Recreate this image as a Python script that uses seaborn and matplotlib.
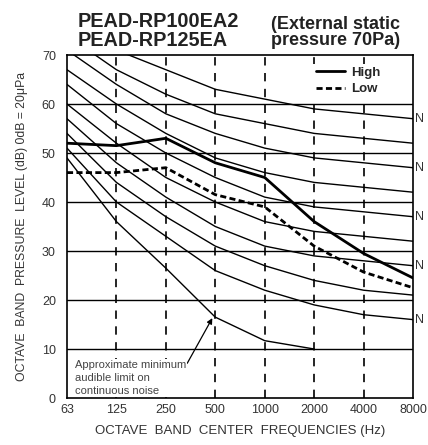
import pandas as pd
import matplotlib
matplotlib.use("Agg")
import matplotlib.pyplot as plt
import seaborn as sns

# octave band centres and NC curves
freqs = ["63", "125", "250", "500", "1000", "2000", "4000", "8000"]
nc_names = ["NC-20", "NC-25", "NC-30", "NC-35", "NC-40", "NC-45", "NC-50", "NC-55", "NC-60"]
nc20 = [51, 40, 33, 26, 22, 19, 17, 16]
nc25 = [54, 44, 37, 31, 27, 24, 22, 21]
nc30 = [57, 48, 41, 35, 31, 29, 28, 27]
nc35 = [60, 52, 45, 40, 36, 34, 33, 32]
nc40 = [64, 56, 50, 45, 41, 39, 38, 37]
nc45 = [67, 60, 54, 49, 46, 44, 43, 42]
nc50 = [71, 64, 58, 54, 51, 49, 48, 47]
nc55 = [74, 67, 62, 58, 56, 54, 53, 52]
nc60 = [77, 71, 67, 63, 61, 59, 58, 57]
threshold = [49, 36, 26.5, 16.5, 11.7, 10]

high = [52, 51.5, 53, 48, 45, 36, 29.5, 24.5]
low = [46, 46, 47, 41.5, 39, 31, 25.7, 22.5]

# only the "N" of the curve names survives at the right edge of the scan
labelled = ["NC-20", "NC-30", "NC-40", "NC-50", "NC-60"]

sns.set_style("white")
plt.rcParams['font.family'] = ['Liberation Sans', 'DejaVu Sans']

fig = plt.figure(figsize=(4.28, 4.45), dpi=100)
ax = fig.add_axes([0.1565, 0.1056, 0.8085, 0.7708])

x = list(range(len(freqs)))
nc_all = [nc20, nc25, nc30, nc35, nc40, nc45, nc50, nc55, nc60]
for name, vals in zip(nc_names, nc_all):
    sns.lineplot(x=x, y=vals, ax=ax, color="black", linewidth=1.0)
    if name in labelled:
        ax.text(7.05, vals[-1], name[0], fontsize=9, va="center", ha="left",
                color="#333333", clip_on=False)

sns.lineplot(x=x[:len(threshold)], y=threshold, ax=ax, color="black", linewidth=1.0)

df = pd.DataFrame({"x": x * 2, "level": high + low,
                   "mode": ["High"] * 8 + ["Low"] * 8})
sns.lineplot(data=df, x="x", y="level", style="mode", ax=ax, color="black",
             linewidth=2.0, dashes={"High": "", "Low": (2.2, 1.2)})

# grid
for yv in range(10, 70, 10):
    ax.axhline(yv, color="black", linewidth=1.0, zorder=0)
for xv in x[1:-1]:
    ax.axvline(xv, color="black", linewidth=1.2, linestyle=(0, (5, 4.5)), zorder=0)

ax.set_xlim(0, 7)
ax.set_ylim(0, 70)
ax.set_xticks(x)
ax.set_xticklabels(freqs)
ax.set_yticks(range(0, 71, 10))
ax.tick_params(labelsize=9, colors="#333333", length=0)
ax.tick_params(axis="y", pad=8)
ax.tick_params(axis="x", pad=4)
for s in ax.spines.values():
    s.set_color("black")
    s.set_linewidth(1.2)

ax.set_xlabel("OCTAVE  BAND  CENTER  FREQUENCIES (Hz)", fontsize=9.5, color="#333333", labelpad=7)
ax.set_ylabel("OCTAVE  BAND  PRESSURE  LEVEL (dB) 0dB = 20μPa", fontsize=8.8, color="#333333", labelpad=10)

leg = ax.legend(frameon=True, loc="upper left", bbox_to_anchor=(0.7, 0.985),
                fontsize=9.5, handlelength=2.2, borderaxespad=0.3, labelspacing=0.3,
                handletextpad=0.5, fancybox=False, framealpha=1.0, borderpad=0.2)
leg.get_frame().set_edgecolor("none")
leg.get_frame().set_facecolor("white")
for t in leg.get_texts():
    t.set_fontweight("bold")

ax.annotate("Approximate minimum\naudible limit on\ncontinuous noise",
            xy=(2.94, 16.3), xytext=(0.16, 7.8), fontsize=8, va="top", ha="left",
            color="#444444", linespacing=1.4,
            bbox=dict(boxstyle="square,pad=0.1", facecolor="white", edgecolor="none"),
            arrowprops=dict(arrowstyle="-|>", color="black", lw=0.9,
                            shrinkA=0, shrinkB=0, relpos=(1.0, 0.85)))

fig.text(0.182, 0.972, "PEAD-RP100EA2\nPEAD-RP125EA", fontsize=14.3, fontweight="bold",
         va="top", ha="left", linespacing=0.95, color="#222222")
fig.text(0.783, 0.964, "(External static\npressure 70Pa)", fontsize=13, fontweight="bold",
         va="top", ha="center", linespacing=0.9, color="#222222")

fig.savefig("out.png", dpi=100)
